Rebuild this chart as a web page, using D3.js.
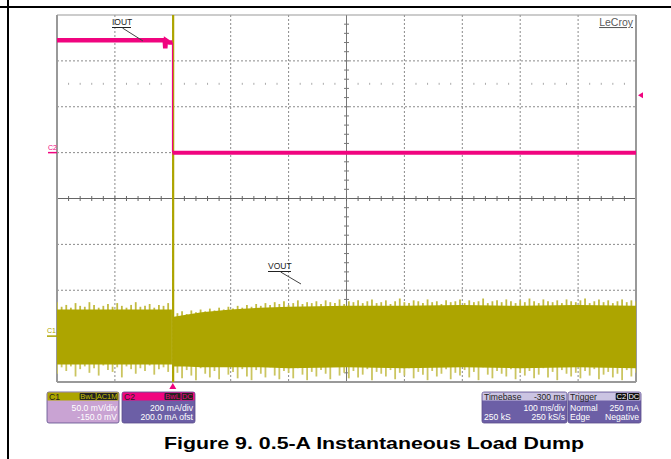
<!DOCTYPE html>
<html><head><meta charset="utf-8">
<script src="https://cdn.jsdelivr.net/npm/d3@7"></script>
<style>body{margin:0;background:#fff}svg{display:block;font-family:"Liberation Sans",Arial,sans-serif}</style>
</head><body><svg id="c" width="671" height="459"></svg>
<script>
// ---------------- data ----------------
const timeDomain = [-200, 800];          // ms, 100 ms/div, 10 div
const ioutDomain = [-1.0, 0.6];          // A, 200 mA/div
const voutDomain = [-50, 350];           // mV, 50 mV/div

// IOUT (C2) trace
const ioutTimeBefore = [-200,-120,-60,-20,-14,-13,-12,-6,-2,-0.5];
const ioutAmpsBefore = [0.49,0.49,0.49,0.49,0.49,0.455,0.49,0.48,0.48,0.48];
const ioutTimeAfter  = [-0.5,5,100,300,500,800];
const ioutAmpsAfter  = [0.0,0.0,0.0,0.0,0.0,0.0];
const triggerLevel = 0.25; // A

// VOUT (C1) core noise band
const coreTimeBefore = [-200,-100,-1.5];
const coreTopBefore  = [29,29,29];
const coreBotBefore  = [-31,-31,-31];
const coreTimeAfter  = [2,20,50,100,150,200,300,400,500,600,700,800];
const coreTopAfter   = [21,23,26,29,31,32,33,33,34,33,34,33];
const coreBotAfter   = [-33,-33,-34,-34,-34,-35,-34,-35,-34,-35,-34,-35];

// VOUT fringe peaks (every 8 ms)
const fringeStep = 8;
const fringeTopBefore = [37,32,34,31,36,33,32,37,34,31,33,35,32,36,33,31,34,37,32,33,35,31,34,33,36];
const fringeBotBefore = [-41,-34,-38,-33,-44,-36,-33,-40,-35,-43,-32,-37,-39,-34,-45,-33,-36,-41,-35,-38,-32,-42,-36,-34,-39];
const fringeTopAfter = [25,27,24,28,26,29,27,30,28,31,29,32,30,33,31,34,32,35,33,36,34,37,35,38,34,36,39,35,37,36,38,35,39,37,36,40,35,38,37,39,36,38,40,36,37,39,35,38,41,37,36,39,38,36,40,37,38,35,39,37,38,40,36,39,37,38,41,36,38,39,37,40,38,36,39,37,41,38,36,40,38,37,39,36,40,38,37,39,41,36,38,40,37,39,36,38,40,37,39,38];
const fringeBotAfter = [-40,-46,-37,-43,-48,-35,-41,-45,-38,-47,-33,-42,-39,-46,-36,-44,-48,-37,-41,-45,-34,-43,-47,-38,-40,-46,-35,-42,-48,-39,-44,-37,-41,-47,-33,-43,-40,-46,-38,-45,-42,-36,-48,-39,-41,-44,-37,-47,-40,-43,-35,-46,-39,-42,-48,-38,-44,-41,-36,-47,-40,-43,-37,-45,-39,-48,-34,-42,-46,-38,-41,-44,-36,-47,-40,-43,-38,-46,-42,-35,-45,-39,-48,-37,-41,-44,-40,-46,-38,-43,-36,-47,-42,-39,-45,-41,-48,-37,-44,-40];

// VOUT transient spike at the load dump
const spikeTime = [0.4, 1.6];
const spikeMax  = [400, 400];
const spikeMin  = [-50, -50];

// info boxes text
const c1Info = ["C1", ["BwL","AC1M"], "50.0 mV/div", "-150.0 mV"];
const c2Info = ["C2", ["BwL","DC"], "200 mA/div", "200.0 mA ofst"];
const timebaseInfo = ["Timebase", "-300 ms", "100 ms/div", "250 kS", "250 kS/s"];
const triggerInfo = ["Trigger", ["C2","DC"], "Normal", "250 mA", "Edge", "Negative"];
const caption = "Figure 9. 0.5-A Instantaneous Load Dump";

// ---------------- drawing ----------------
const svg = d3.select("#c");
const L = 57, R = 636, T = 15, B = 382;
const PINK = "#f0047f", OLIVE = "#ada500";

const x = d3.scaleLinear().domain(timeDomain).range([L, R]);
const yI = d3.scaleLinear().domain(ioutDomain).range([B, T]);
const yV = d3.scaleLinear().domain(voutDomain).range([B, T]);

// outer frame
svg.append("line").attr("x1",0).attr("x2",671).attr("y1",7).attr("y2",7).attr("stroke","#000").attr("stroke-width",2);
svg.append("line").attr("x1",8).attr("x2",8).attr("y1",0).attr("y2",459).attr("stroke","#000").attr("stroke-width",2);

// grid
const g = svg.append("g");
const dx = (R - L) / 10, dy = (B - T) / 8;
for (let i = 1; i < 10; i++) {
  if (i === 5) continue;
  g.append("line").attr("x1",L+i*dx).attr("x2",L+i*dx).attr("y1",T).attr("y2",B)
    .attr("stroke","#8a8a8a").attr("stroke-dasharray","2,2");
}
for (let j = 1; j < 8; j++) {
  if (j === 4) continue;
  g.append("line").attr("x1",L).attr("x2",R).attr("y1",T+j*dy).attr("y2",T+j*dy)
    .attr("stroke","#8a8a8a").attr("stroke-dasharray","2,2");
}
const cx = L + 5*dx, cy = T + 4*dy;
g.append("line").attr("x1",L).attr("x2",R).attr("y1",cy).attr("y2",cy).attr("stroke","#666");
g.append("line").attr("x1",cx).attr("x2",cx).attr("y1",T).attr("y2",B).attr("stroke","#777");
for (let k = 1; k < 50; k++) {
  const xx = L + k*dx/5;
  g.append("line").attr("x1",xx).attr("x2",xx).attr("y1",cy-2.5).attr("y2",cy+2.5).attr("stroke","#666");
  if (k % 5) g.append("rect").attr("x",xx-0.5).attr("y",T+1.5*dy-1).attr("width",1).attr("height",2).attr("fill","#aaa");
}
for (let k = 1; k < 40; k++) {
  const yy = T + k*dy/5;
  g.append("line").attr("y1",yy).attr("y2",yy).attr("x1",cx-2.5).attr("x2",cx+2.5).attr("stroke","#777");
}
// plot frame
g.append("line").attr("x1",L).attr("x2",R).attr("y1",T).attr("y2",T).attr("stroke","#999");
g.append("line").attr("x1",L).attr("x2",R).attr("y1",B).attr("y2",B).attr("stroke","#999").attr("stroke-width",2);
g.append("line").attr("x1",L).attr("x2",L).attr("y1",T).attr("y2",B).attr("stroke","#999").attr("stroke-width",2);
g.append("line").attr("x1",R).attr("x2",R).attr("y1",T).attr("y2",B).attr("stroke","#999").attr("stroke-width",2);

// clip
svg.append("clipPath").attr("id","clip").append("rect").attr("x",L).attr("y",T).attr("width",R-L).attr("height",B-T);
const plot = svg.append("g").attr("clip-path","url(#clip)");

// VOUT fringe
function fringe(top, bot, t0) {
  top.forEach((v, i) => {
    const t = t0 + i*fringeStep;
    plot.append("line").attr("x1",x(t)).attr("x2",x(t)).attr("y1",yV(v)).attr("y2",yV(0))
      .attr("stroke","#c2bb40").attr("stroke-width",1.8);
  });
  bot.forEach((v, i) => {
    const t = t0 + i*fringeStep;
    plot.append("line").attr("x1",x(t)).attr("x2",x(t)).attr("y1",yV(v)).attr("y2",yV(0))
      .attr("stroke","#cbc560").attr("stroke-width",1.8);
  });
}
fringe(fringeTopBefore, fringeBotBefore, -200);
fringe(fringeTopAfter, fringeBotAfter, 8);

// VOUT core band
const area = d3.area().x(d => x(d[0])).y0(d => yV(d[2])).y1(d => yV(d[1]));
plot.append("path").datum(coreTimeBefore.map((t,i)=>[t,coreTopBefore[i],coreBotBefore[i]]))
  .attr("d",area).attr("fill",OLIVE);
plot.append("path").datum(coreTimeAfter.map((t,i)=>[t,coreTopAfter[i],coreBotAfter[i]]))
  .attr("d",area).attr("fill",OLIVE);

// spike
spikeTime.forEach((t,i) => {
  plot.append("line").attr("x1",x(t)).attr("x2",x(t)).attr("y1",yV(spikeMax[i])).attr("y2",yV(spikeMin[i]))
    .attr("stroke",OLIVE).attr("stroke-width", i ? 1 : 2);
});

// IOUT trace
const line = d3.line().x((d)=>x(d[0])).y(d=>yI(d[1]));
plot.append("path").datum(ioutTimeBefore.map((t,i)=>[t,ioutAmpsBefore[i]]))
  .attr("d",line).attr("fill","none").attr("stroke",PINK).attr("stroke-width",4.5);
plot.append("path").datum(ioutTimeAfter.map((t,i)=>[t,ioutAmpsAfter[i]]))
  .attr("d",line).attr("fill","none").attr("stroke",PINK).attr("stroke-width",4);
// falling edge (thin)
const edge = [[ioutTimeBefore[ioutTimeBefore.length-1], ioutAmpsBefore[ioutAmpsBefore.length-1]],[ioutTimeAfter[0], ioutAmpsAfter[0]]];
plot.append("path").datum(edge).attr("d",line).attr("fill","none").attr("stroke",PINK).attr("stroke-width",1.2);

// markers
svg.append("path").attr("d",`M${R+2},${yI(triggerLevel)} l5,-3 l0,6 z`).attr("fill",PINK);
svg.append("path").attr("d",`M${x(0)},${B+1} l-3.5,6 l7,0 z`).attr("fill",PINK);

// channel ground labels
svg.append("text").attr("x",48).attr("y",yI(0)-3).attr("font-size",7).attr("fill",PINK).text("C2");
svg.append("line").attr("x1",48).attr("x2",57).attr("y1",yI(0)).attr("y2",yI(0)).attr("stroke",PINK).attr("stroke-width",1.5);
svg.append("text").attr("x",47).attr("y",yV(0)-3).attr("font-size",7).attr("fill",OLIVE).text("C1");
svg.append("line").attr("x1",47).attr("x2",57).attr("y1",yV(0)).attr("y2",yV(0)).attr("stroke",OLIVE).attr("stroke-width",1.5);

// trace labels
function tag(txt, tx, ty, w, x2, y2) {
  svg.append("text").attr("x",tx).attr("y",ty).attr("font-size",8.5).attr("fill","#222").text(txt);
  svg.append("line").attr("x1",tx).attr("x2",tx+w).attr("y1",ty+2.5).attr("y2",ty+2.5).attr("stroke","#222");
  svg.append("line").attr("x1",tx+w*0.55).attr("x2",x2).attr("y1",ty+3).attr("y2",y2).attr("stroke","#444");
}
tag("IOUT", 112, 25, 19, 143, 41);
tag("VOUT", 268, 269, 23, 301, 284);

// LeCroy
svg.append("text").attr("x",633).attr("y",26).attr("text-anchor","end").attr("font-size",10.5)
  .attr("fill","#5a5a5a").attr("text-decoration","underline").text("LeCroy");

// info boxes
function box(bx, w, headFill, bodyFill) {
  const by = 392, h = 31;
  const gg = svg.append("g");
  gg.append("rect").attr("x",bx).attr("y",by).attr("width",w).attr("height",h).attr("rx",2).attr("fill",bodyFill).attr("stroke","#5a4c8c").attr("stroke-width",0.8);
  gg.append("rect").attr("x",bx+0.5).attr("y",by+0.5).attr("width",w-1).attr("height",8).attr("fill",headFill);
  return gg;
}
function t(gg, txt, tx, ty, anchor, fill) {
  gg.append("text").attr("x",tx).attr("y",ty).attr("text-anchor",anchor).attr("font-size",8.6).attr("fill",fill).text(txt);
}
function badges(gg, list, right, fill, textFill) {
  let xr = right;
  const ws = list.map(s => s.length*4.7 + 3);
  for (let i = list.length-1; i >= 0; i--) {
    xr -= ws[i];
    gg.append("rect").attr("x",xr).attr("y",393).attr("width",ws[i]-1).attr("height",7).attr("rx",1).attr("fill",fill);
    gg.append("text").attr("x",xr+(ws[i]-1)/2).attr("y",399.3).attr("text-anchor","middle").attr("font-size",7.5).attr("fill",textFill).text(list[i]);
  }
}
let b = box(47, 72, OLIVE, "#c9a3d3");
t(b, c1Info[0], 49, 399.8, "start", "#222");
badges(b, c1Info[1], 118.5, "#222", "#c8c000");
t(b, c1Info[2], 117, 410.5, "end", "#fff");
t(b, c1Info[3], 117, 420, "end", "#fff");

b = box(122, 73, PINK, "#6c5fa6");
t(b, c2Info[0], 124, 399.8, "start", "#222");
badges(b, c2Info[1], 194, "#222", PINK);
t(b, c2Info[2], 193, 410.5, "end", "#fff");
t(b, c2Info[3], 193, 420, "end", "#fff");

b = box(482, 85, "#cbc4e2", "#6c5fa6");
t(b, timebaseInfo[0], 484, 399.8, "start", "#222");
t(b, timebaseInfo[1], 565, 399.8, "end", "#222");
t(b, timebaseInfo[2], 565, 410.5, "end", "#fff");
t(b, timebaseInfo[3], 484, 420, "start", "#fff");
t(b, timebaseInfo[4], 565, 420, "end", "#fff");

b = box(568, 73, "#cbc4e2", "#6c5fa6");
t(b, triggerInfo[0], 570, 399.8, "start", "#222");
badges(b, triggerInfo[1], 640.5, "#111", "#fff");
t(b, triggerInfo[2], 570, 410.5, "start", "#fff");
t(b, triggerInfo[3], 639, 410.5, "end", "#fff");
t(b, triggerInfo[4], 570, 420, "start", "#fff");
t(b, triggerInfo[5], 639, 420, "end", "#fff");

// caption
svg.append("text").attr("x",374).attr("y",449).attr("text-anchor","middle").attr("font-size",17)
  .attr("font-weight","bold").attr("fill","#000")
  .attr("textLength",420).attr("lengthAdjust","spacingAndGlyphs").text(caption);
</script></body></html>
